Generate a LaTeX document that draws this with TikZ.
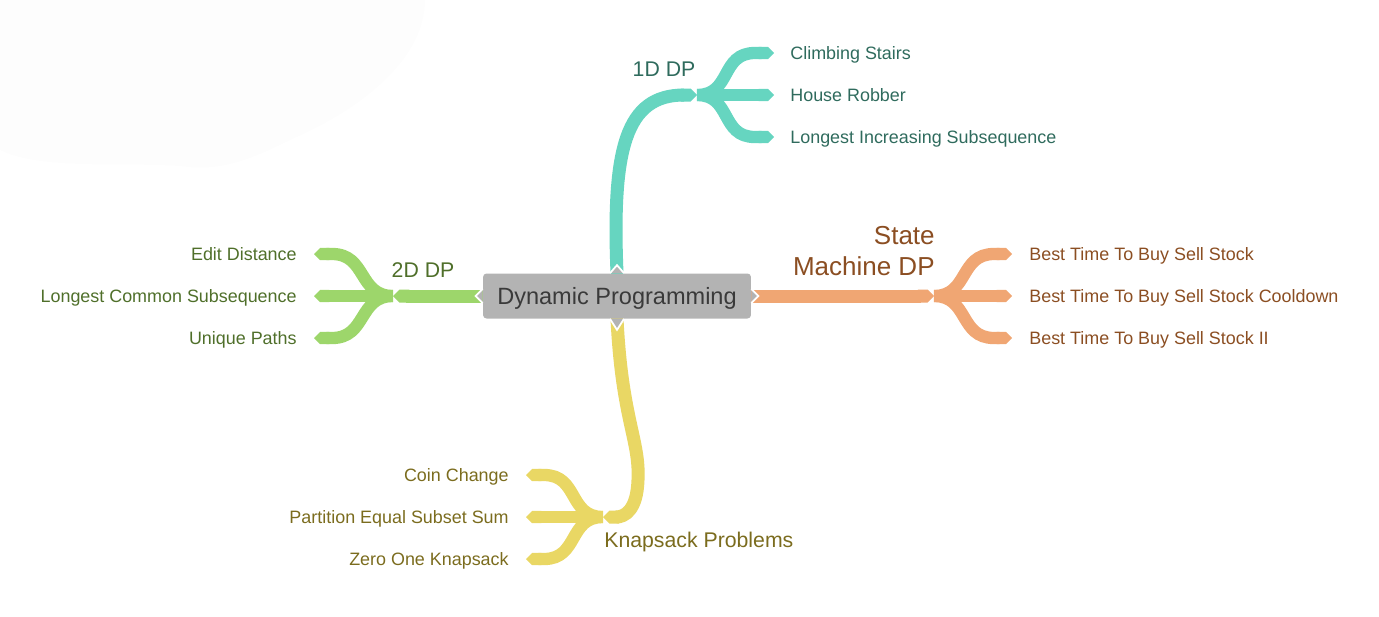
\documentclass[tikz,border=0pt]{standalone}
\usepackage{fontspec}
\setmainfont{Liberation Sans}
\usetikzlibrary{arrows.meta, calc, positioning}

\definecolor{nodegray}{HTML}{B3B3B3}
\definecolor{nodetext}{HTML}{3A3A3A}
\definecolor{tealbr}{HTML}{66D5C0}
\definecolor{tealtx}{HTML}{2F6B5D}
\definecolor{greenbr}{HTML}{9DD66B}
\definecolor{greentx}{HTML}{4F6F2A}
\definecolor{orangebr}{HTML}{F0A673}
\definecolor{orangetx}{HTML}{8B4E22}
\definecolor{yellowbr}{HTML}{E9D764}
\definecolor{yellowtx}{HTML}{7B6C1E}

\pgfdeclarelayer{background}
\pgfsetlayers{background,main}

\tikzset{
  mainnode/.style={fill=nodegray, rounded corners=2pt, minimum width=5.36cm, minimum height=0.9cm,
    text=nodetext, text height=9.6pt, text depth=0pt, font=\fontsize{13.4}{16}\selectfont},
  leaf/.style={inner sep=0pt, text height=7.3pt, text depth=0pt, font=\fontsize{10.2}{12}\selectfont},
  topic/.style={inner sep=0pt, text height=8.7pt, text depth=0pt, font=\fontsize{12.1}{14.5}\selectfont},
  twig/.style={line width=7pt, -{Triangle Cap}},
  bough/.style={line width=7.4pt, -{Triangle Cap}},
  halo/.style={white, line width=8.8pt, -{Triangle Cap}},
  tab/.style={fill=nodegray, draw=white, line width=1pt},
}

\begin{document}
\begin{tikzpicture}[x=0.02cm, y=-0.02cm]
\useasboundingbox (0,0) rectangle (1379,616);

% centre
\node[mainnode] (dp) at (617,296) {Dynamic Programming};

% branch titles
\node[topic, text=tealtx] (d1) at (664,69) {1D DP};
\node[topic, text=greentx] (d2) at (423,270) {2D DP};
\node[inner sep=0pt, font=\fontsize{14.8}{17.6}\selectfont, text=orangetx, align=right, anchor=north east] (sm) at (935,226) {State\\Machine DP};
\node[topic, text=yellowtx, anchor=west] (ks) at (604,540) {Knapsack Problems};

% leaves
\node[leaf, text=tealtx, anchor=west] (cs) at (790,53) {Climbing Stairs};
\node[leaf, text=tealtx, anchor=west] (hr) at (790,95) {House Robber};
\node[leaf, text=tealtx, anchor=west] (lis) at (790,137) {Longest Increasing Subsequence};

\node[leaf, text=greentx, anchor=east] (ed) at (297,254) {Edit Distance};
\node[leaf, text=greentx, anchor=east] (lcs) at (297,296) {Longest Common Subsequence};
\node[leaf, text=greentx, anchor=east] (up) at (297,338) {Unique Paths};

\node[leaf, text=orangetx, anchor=west] (bt) at (1029,254) {Best Time To Buy Sell Stock};
\node[leaf, text=orangetx, anchor=west] (btc) at (1029,296) {Best Time To Buy Sell Stock Cooldown};
\node[leaf, text=orangetx, anchor=west] (bt2) at (1029,338) {Best Time To Buy Sell Stock II};

\node[leaf, text=yellowtx, anchor=east] (cc) at (509,475) {Coin Change};
\node[leaf, text=yellowtx, anchor=east] (pes) at (509,517) {Partition Equal Subset Sum};
\node[leaf, text=yellowtx, anchor=east] (zok) at (509,559) {Zero One Knapsack};

\coordinate (f1) at (697,95);
\coordinate (f2) at (393,296);
\coordinate (f3) at (934,296);
\coordinate (f4) at (603,517);

\begin{pgfonlayer}{background}
% faint blob
\fill[black!0.8] (0,0) -- (425,0) .. controls (425,60) and (360,110) .. (290,140)
  .. controls (250,160) and (220,172) .. (180,166) .. controls (120,162) and (40,170) .. (0,150) -- cycle;

% fans
\foreach \c in {cs,hr,lis}
  \draw[twig, tealbr] (f1) .. controls +(35,0) and ($(\c.west)+(-70,0)$) .. ($(\c.west)+(-35,0)$) -- ($(\c.west)+(-16,0)$);
\foreach \c in {ed,lcs,up}
  \draw[twig, greenbr] (f2) .. controls +(-35,0) and ($(\c.east)+(70,0)$) .. ($(\c.east)+(35,0)$) -- ($(\c.east)+(17,0)$);
\foreach \c in {bt,btc,bt2}
  \draw[twig, orangebr] (f3) .. controls +(35,0) and ($(\c.west)+(-70,0)$) .. ($(\c.west)+(-35,0)$) -- ($(\c.west)+(-17,0)$);
\foreach \c in {cc,pes,zok}
  \draw[twig, yellowbr] (f4) .. controls +(-35,0) and ($(\c.east)+(70,0)$) .. ($(\c.east)+(35,0)$) -- ($(\c.east)+(17,0)$);

% main branches
\draw[halo] ($(dp.north)+(0,10)$) -- (dp.north) .. controls (612,150) and (625,95) .. (f1);
\draw[bough, tealbr] ($(dp.north)+(0,10)$) -- (dp.north) .. controls (612,150) and (625,95) .. (f1);
\draw[halo] ($(dp.west)+(10,0)$) -- (f2);
\draw[bough, greenbr] ($(dp.west)+(10,0)$) -- (f2);
\draw[halo] ($(dp.east)+(-10,0)$) -- (f3);
\draw[bough, orangebr] ($(dp.east)+(-10,0)$) -- (f3);
\draw[halo] ($(dp.south)+(0,-10)$) -- (dp.south) .. controls (622,420) and (640,440) .. (638,480)
  .. controls (637,510) and (625,517) .. (f4);
\draw[bough, yellowbr] ($(dp.south)+(0,-10)$) -- (dp.south) .. controls (622,420) and (640,440) .. (638,480)
  .. controls (637,510) and (625,517) .. (f4);
\end{pgfonlayer}

% tabs on the centre box
\filldraw[tab] ($(dp.north)+(-7,0)$) -- ($(dp.north)+(0,-8)$) -- ($(dp.north)+(7,0)$);
\filldraw[tab] ($(dp.south)+(-7,0)$) -- ($(dp.south)+(0,11)$) -- ($(dp.south)+(7,0)$);
\filldraw[tab] ($(dp.west)+(0,-7)$) -- ($(dp.west)+(-7,0)$) -- ($(dp.west)+(0,7)$);
\filldraw[tab] ($(dp.east)+(0,-7)$) -- ($(dp.east)+(7,0)$) -- ($(dp.east)+(0,7)$);

\end{tikzpicture}
\end{document}
